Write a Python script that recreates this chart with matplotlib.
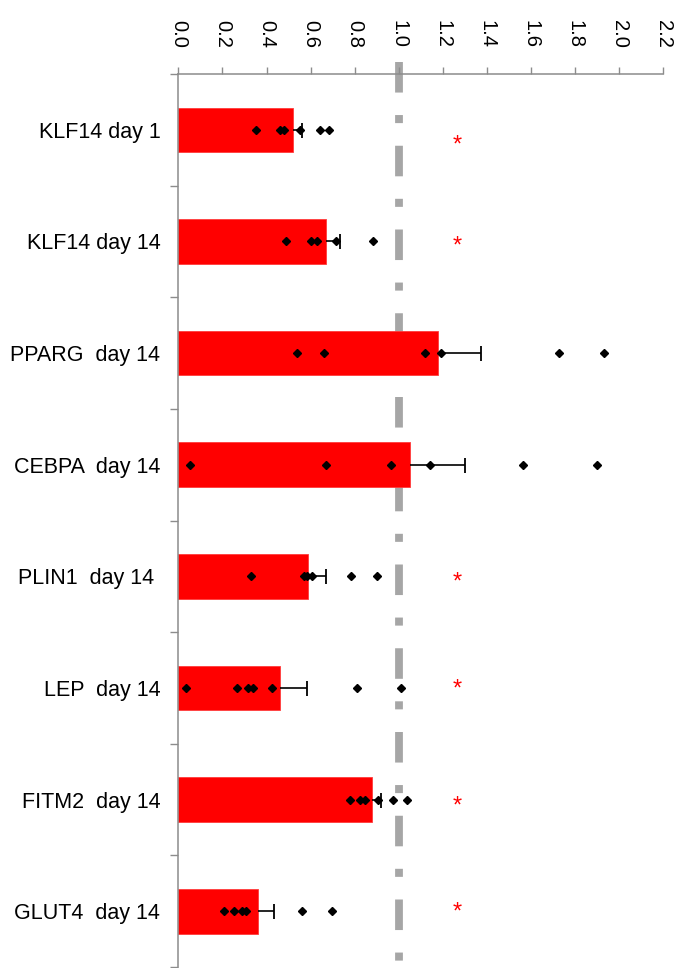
import numpy as np
import matplotlib
matplotlib.use("Agg")
import matplotlib.pyplot as plt
from matplotlib import font_manager
from matplotlib.transforms import blended_transform_factory

# ---- data -------------------------------------------------------------
labels = ["KLF14 day 1", "KLF14 day 14", "PPARG  day 14", "CEBPA  day 14",
          "PLIN1  day 14 ", "LEP  day 14", "FITM2  day 14", "GLUT4  day 14"]
means = [0.52, 0.67, 1.18, 1.05, 0.59, 0.46, 0.88, 0.36]
sem = [0.043, 0.062, 0.194, 0.249, 0.080, 0.123, 0.038, 0.074]

klf14_d1 = [0.354, 0.463, 0.478, 0.550, 0.644, 0.682]
klf14_d14 = [0.488, 0.600, 0.629, 0.715, 0.883]
pparg_d14 = [0.540, 0.659, 1.120, 1.190, 1.726, 1.929]
cebpa_d14 = [0.051, 0.668, 0.965, 1.141, 1.565, 1.900]
plin1_d14 = [0.331, 0.571, 0.583, 0.608, 0.782, 0.901]
lep_d14 = [0.036, 0.265, 0.317, 0.339, 0.426, 0.810, 1.011]
fitm2_d14 = [0.780, 0.822, 0.848, 0.904, 0.976, 1.035]
glut4_d14 = [0.205, 0.251, 0.289, 0.307, 0.562, 0.698]
replicates = [klf14_d1, klf14_d14, pparg_d14, cebpa_d14,
              plin1_d14, lep_d14, fitm2_d14, glut4_d14]

significant = [True, True, False, False, True, True, True, True]
reference_level = 1.0
x_ticks = [0.0, 0.2, 0.4, 0.6, 0.8, 1.0, 1.2, 1.4, 1.6, 1.8, 2.0, 2.2]

# ---- fonts ------------------------------------------------------------
available = {f.name for f in font_manager.fontManager.ttflist}
if "Liberation Sans Narrow" in available:
    label_font, label_size = "Liberation Sans Narrow", 18.0
else:
    label_font, label_size = "Liberation Sans", 15.5
plt.rcParams["font.family"] = ["Liberation Sans", "DejaVu Sans"]
plt.rcParams["lines.scale_dashes"] = False

# ---- figure -----------------------------------------------------------
fig = plt.figure(figsize=(6.83, 9.68), dpi=100)
ax = fig.add_axes([0.2611, 0.001, 0.7101, 0.9225])

ypos = np.arange(len(labels))
axis_grey = "#8C8C8C"

# dash-dot reference line at 1.0, running a little above the axes
trans = blended_transform_factory(ax.transData, ax.transAxes)
ax.plot([reference_level, reference_level], [1.0134, 0.0], transform=trans,
        color="#A6A6A6", lw=5.6, linestyle=(0, (22.0, 16.2, 5.8, 16.3)),
        clip_on=False, zorder=1, solid_capstyle="butt", dash_capstyle="butt")

# bars
ax.barh(ypos, means, height=0.4, color="#FF0000", edgecolor="#FF3B3B",
        linewidth=0.6, zorder=2)

# one-sided error bars (mean -> mean + SEM) with end caps
upper = np.array(means) + np.array(sem)
ax.hlines(ypos, means, upper, color="black", lw=1.2, zorder=3)
ax.plot(upper, ypos, ls="none", marker="|", ms=10.8, mew=1.3,
        color="black", zorder=3)

# individual replicates
for y, vals in zip(ypos, replicates):
    ax.plot(vals, [y] * len(vals), ls="none", marker="D", ms=3.9,
            color="black", zorder=4)

# significance marks
star_dy = {0: -11, 1: -3.5, 4: -4.5, 5: -1, 6: -5, 7: -1}
for y, sig in zip(ypos, significant):
    if sig:
        ax.annotate("*", xy=(1.265, y), xytext=(0, star_dy.get(y, 0)),
                    textcoords="offset points", ha="center", va="center",
                    color="#FF0000", fontsize=17, zorder=5)

# ---- axes styling -----------------------------------------------------
ax.set_xlim(0, 2.2)
ax.set_ylim(len(labels) - 0.5, -0.5)

ax.xaxis.tick_top()
ax.set_xticks(x_ticks)
ax.set_xticklabels([f"{v:.1f}" for v in x_ticks], rotation=-90,
                   fontsize=14.5, va="bottom", ha="center")
ax.tick_params(axis="x", which="major", direction="out", length=5.2,
               width=1.0, color=axis_grey, pad=13.5, labelcolor="black")

ax.set_yticks(ypos)
ax.set_yticklabels(labels, fontsize=label_size, family=label_font)
ax.set_yticks(np.arange(-0.5, len(labels)), minor=True)
ax.tick_params(axis="y", which="major", length=0, pad=13)
ax.tick_params(axis="y", which="minor", direction="out", length=5.8,
               width=1.0, color=axis_grey)

for side in ("right", "bottom"):
    ax.spines[side].set_visible(False)
for side in ("left", "top"):
    ax.spines[side].set_color(axis_grey)
    ax.spines[side].set_linewidth(1.1)

fig.savefig("out.png", dpi=100)
